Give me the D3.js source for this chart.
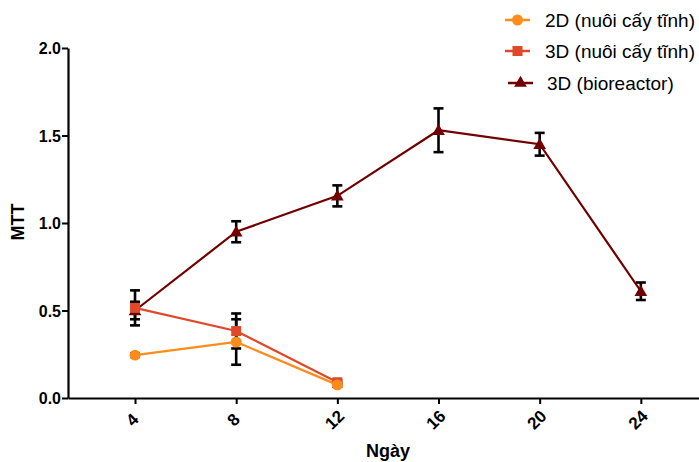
<!DOCTYPE html>
<html><head><meta charset="utf-8">
<script src="https://cdn.jsdelivr.net/npm/d3@7"></script>
<style>body{margin:0;background:#fff}svg{display:block;font-family:"Liberation Sans",Arial,sans-serif}</style>
</head><body><svg id="c" width="699" height="462"></svg>
<script>
const days = [4, 8, 12, 16, 20, 24];
const xTicks = [4, 8, 12, 16, 20, 24];
const yTicks = [0, 0.5, 1.0, 1.5, 2.0];
const seriesNames = ["2D (nuôi cấy tĩnh)", "3D (nuôi cấy tĩnh)", "3D (bioreactor)"];
const mean2D = [0.245, 0.32, 0.075];
const err2D = [0.01, 0.13, 0.01];
const mean3D = [0.515, 0.383, 0.09];
const err3D = [0.10, 0.10, 0.01];
const meanBio = [0.50, 0.95, 1.155, 1.53, 1.45, 0.61];
const errBio = [0.05, 0.06, 0.06, 0.125, 0.065, 0.05];
const colors = ["#FF8C1A", "#E0482A", "#700000"];
const shapes = [d3.symbolCircle, d3.symbolSquare, d3.symbolTriangle];

const svg = d3.select("#c");
const x = d3.scaleLinear().domain([1.35, 26.3]).range([68, 699]);
const y = d3.scaleLinear().domain([0, 2]).range([398, 48]);

const series = [
  {name: seriesNames[0], mean: mean2D, err: err2D, color: colors[0], shape: shapes[0], size: 95},
  {name: seriesNames[1], mean: mean3D, err: err3D, color: colors[1], shape: shapes[1], size: 100},
  {name: seriesNames[2], mean: meanBio, err: errBio, color: colors[2], shape: shapes[2], size: 70}
];
series.forEach(s => s.pts = s.mean.map((m, i) => ({x: days[i], y: m, e: s.err[i]})));

// axes
const yAxis = svg.append("g").attr("transform", "translate(68,0)")
  .call(d3.axisLeft(y).tickValues(yTicks).tickFormat(d3.format(".1f")).tickSize(6).tickSizeOuter(0));
const xAxis = svg.append("g").attr("transform", "translate(0,398)")
  .call(d3.axisBottom(x).tickValues(xTicks).tickSize(6).tickSizeOuter(0));
[yAxis, xAxis].forEach(a => {
  a.select(".domain").attr("stroke", "#000").attr("stroke-width", 2.2);
  a.selectAll(".tick line").attr("stroke", "#000").attr("stroke-width", 2);
  a.selectAll("text").attr("fill", "#000").attr("font-weight", "bold").attr("font-size", 16);
});
yAxis.selectAll("text").attr("x", -7).attr("dy", "0.36em");
xAxis.selectAll(".tick text")
  .attr("y", 0).attr("dy", 0).attr("font-size", 17)
  .attr("text-anchor", "middle").attr("dominant-baseline", "central")
  .attr("transform", "translate(-3,22) rotate(-45)");

svg.append("text").attr("transform", "translate(24,222) rotate(-90)")
  .attr("text-anchor", "middle").attr("font-weight", "bold").attr("font-size", 18).text("MTT");
svg.append("text").attr("x", 388).attr("y", 457)
  .attr("text-anchor", "middle").attr("font-weight", "bold").attr("font-size", 18).text("Ngày");

// error bars
const eg = svg.append("g");
series.slice().reverse().forEach(s => {
  s.pts.forEach(p => {
    const g = eg.append("g").attr("stroke", "#000").attr("stroke-width", 2.6);
    g.append("line").attr("x1", x(p.x)).attr("x2", x(p.x)).attr("y1", y(p.y - p.e)).attr("y2", y(p.y + p.e));
    [p.y - p.e, p.y + p.e].forEach(v => g.append("line")
      .attr("x1", x(p.x) - 5).attr("x2", x(p.x) + 5).attr("y1", y(v)).attr("y2", y(v)));
  });
});

// lines and markers: bioreactor bottom, 2D top
const line = d3.line().x(p => x(p.x)).y(p => y(p.y));
series.slice().reverse().forEach(s => {
  svg.append("path").datum(s.pts).attr("d", line).attr("fill", "none")
    .attr("stroke", s.color).attr("stroke-width", 2.2);
  svg.append("g").selectAll("path").data(s.pts).join("path")
    .attr("transform", p => `translate(${x(p.x)},${y(p.y) + (s.shape === d3.symbolTriangle ? 1 : 0)})`)
    .attr("d", d3.symbol().type(s.shape).size(s.size)).attr("fill", s.color);
});

// legend
const legY = [20, 51, 83];
const legX0 = [505, 505, 508];
const legTX = [545, 545, 547];
series.forEach((s, i) => {
  const g = svg.append("g");
  g.append("line").attr("x1", legX0[i]).attr("x2", legX0[i] + 25).attr("y1", legY[i]).attr("y2", legY[i])
    .attr("stroke", s.color).attr("stroke-width", 2.5);
  g.append("path").attr("transform", `translate(${legX0[i] + 12.5},${legY[i]})`)
    .attr("d", d3.symbol().type(s.shape).size(s.size)).attr("fill", s.color);
  g.append("text").attr("x", legTX[i]).attr("y", legY[i]).attr("dy", "0.35em")
    .attr("font-size", 19).attr("fill", "#000").text(s.name);
});
</script></body></html>
